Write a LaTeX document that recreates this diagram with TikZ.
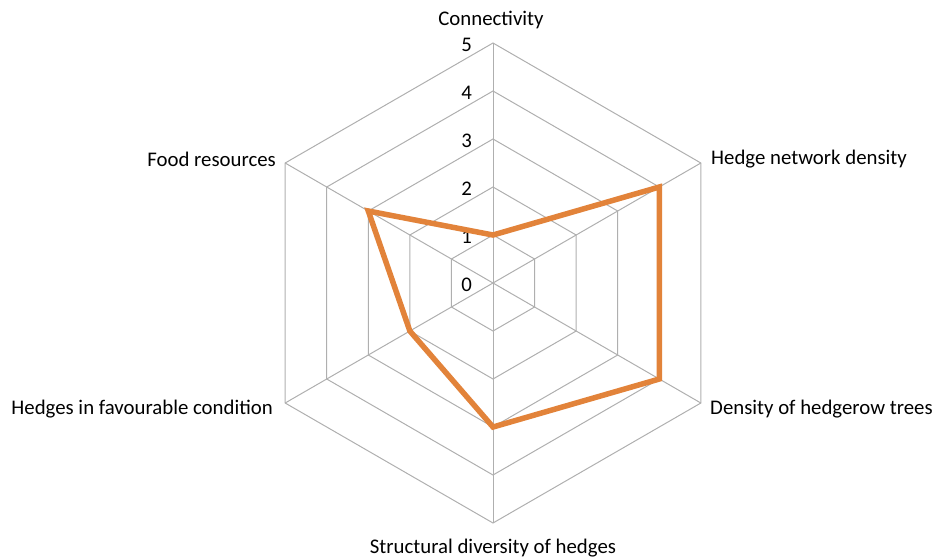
\documentclass[tikz,border=0pt]{standalone}
\usepackage{fontspec}
\setmainfont{Carlito}
\usetikzlibrary{calc}
\definecolor{gridgray}{RGB}{175,175,175}
\definecolor{seriesorange}{RGB}{226,131,58}
\begin{document}
\begin{tikzpicture}[x=1pt,y=1pt,
  gridline/.style={draw=gridgray,line width=1pt},
  series/.style={draw=seriesorange,line width=5.5pt,line join=miter},
  axislabel/.style={font=\fontsize{20.8}{24}\selectfont,text=black,inner sep=0pt},
  ticklabel/.style={font=\fontsize{20.8}{24}\selectfont,text=black,inner sep=0pt,anchor=east}]
\useasboundingbox (0,0) rectangle (936,-558);
\coordinate (c) at (493,-283);
% grid rings
\foreach \r in {1,...,5}{
  \draw[gridline] ($(c)+(90:48*\r)$) -- ($(c)+(30:48*\r)$) -- ($(c)+(-30:48*\r)$) -- ($(c)+(-90:48*\r)$) -- ($(c)+(-150:48*\r)$) -- ($(c)+(150:48*\r)$) -- cycle;
}
\foreach \a in {90,30,-30,-90,-150,150}{
  \draw[gridline] (c) -- ($(c)+(\a:240)$);
}
% tick labels
\foreach \r in {0,...,5}{
  \node[ticklabel] (t\r) at (472,-285+48*\r) {\r};
}
% series
\coordinate (p1) at ($(c)+(90:48)$);
\coordinate (p2) at ($(c)+(30:192)$);
\coordinate (p3) at ($(c)+(-30:192)$);
\coordinate (p4) at ($(c)+(-90:144)$);
\coordinate (p5) at ($(c)+(-150:96)$);
\coordinate (p6) at ($(c)+(150:144)$);
\draw[series] (p1) -- (p2) -- (p3) -- (p4) -- (p5) -- (p6) -- cycle;
% axis labels
\node[axislabel,anchor=center] (l1) at (491,-20) {Connectivity};
\node[axislabel,anchor=west] (l2) at (711,-159) {Hedge network density};
\node[axislabel,anchor=west] (l3) at (710,-409) {Density of hedgerow trees};
\node[axislabel,anchor=center] (l4) at (493,-548) {Structural diversity of hedges};
\node[axislabel,anchor=east] (l5) at (273,-409) {Hedges in favourable condition};
\node[axislabel,anchor=east] (l6) at (276,-159) {Food resources};
\end{tikzpicture}
\end{document}
